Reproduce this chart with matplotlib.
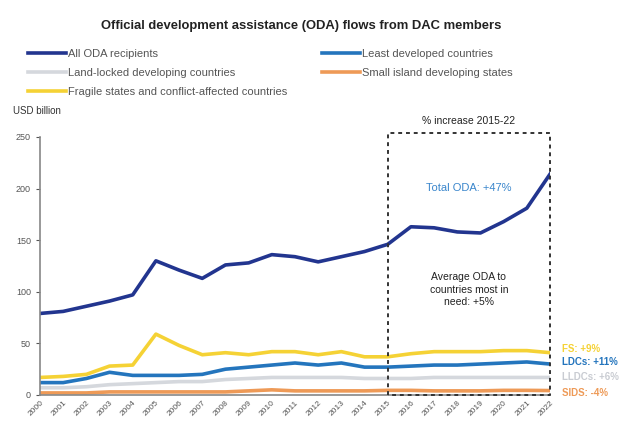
import matplotlib
matplotlib.use("Agg")
import matplotlib.pyplot as plt

plt.rcParams["font.family"] = ["Liberation Sans", "DejaVu Sans"]

years = list(range(2000, 2023))
all_oda = [79, 81, 86, 91, 97, 130, 121, 113, 126, 128, 136, 134, 129, 134, 139, 146,
           163, 162, 158, 157, 168, 181, 214]
ldcs = [12, 12, 16, 22, 19, 19, 19, 20, 25, 27, 29, 31, 29, 31, 27, 27,
        28, 29, 29, 30, 31, 32, 30]
lldcs = [7, 7, 8, 10, 11, 12, 13, 13, 15, 16, 17, 17, 17, 17, 16, 16,
         16, 17, 17, 17, 17, 17, 17]
sids = [2, 2, 2, 3, 3, 3, 3, 3, 3, 4, 5, 4, 4, 4, 4, 4.5,
        4.5, 4, 4, 4, 4.5, 4.5, 4.3]
fragile = [17, 18, 20, 28, 29, 59, 48, 39, 41, 39, 42, 42, 39, 42, 37, 37,
           40, 42, 42, 42, 43, 43, 41]

series_names = ["All ODA recipients", "Least developed countries",
                "Land-locked developing countries", "Small island developing states",
                "Fragile states and conflict-affected countries"]
end_labels = ["FS: +9%", "LDCs: +11%", "LLDCs: +6%", "SIDS: -4%"]

c_all = "#22358F"
c_ldc = "#2475BD"
c_lldc = "#D5D8DD"
c_sids = "#EE9A57"
c_fs = "#F5D235"

fig = plt.figure(figsize=(6.2, 4.25), dpi=100)
ax = fig.add_axes([0.0645, 0.0706, 0.8226, 0.6071])

l_all, = ax.plot(years, all_oda, color=c_all, lw=2.6)
l_ldc, = ax.plot(years, ldcs, color=c_ldc, lw=2.6)
l_lldc, = ax.plot(years, lldcs, color=c_lldc, lw=2.6)
l_sids, = ax.plot(years, sids, color=c_sids, lw=2.6)
l_fs, = ax.plot(years, fragile, color=c_fs, lw=2.6)

ax.set_xlim(2000, 2022)
ax.set_ylim(0, 250)
ax.set_yticks([0, 50, 100, 150, 200, 250])
ax.set_xticks(years)
ax.set_xticklabels([str(y) for y in years], rotation=45, ha="right",
                   rotation_mode="anchor", fontsize=6, color="#555555")
ax.tick_params(axis="y", labelsize=6.5, colors="#555555", length=3, direction="out")
ax.tick_params(axis="x", length=0, pad=3)
for s in ["top", "right"]:
    ax.spines[s].set_visible(False)
for s in ["left", "bottom"]:
    ax.spines[s].set_color("#888888")
    ax.spines[s].set_linewidth(1.2)

# dashed box highlighting 2015-22
box_top = 254
ax.plot([2015, 2015, 2022, 2022, 2015], [0, box_top, box_top, 0, 0],
        color="#333333", lw=1.4, ls=(0, (2, 2)), clip_on=False, zorder=5)
ax.text(2018.5, 261, "% increase 2015-22", ha="center", va="bottom",
        fontsize=7.5, color="#222222")
ax.text(2018.5, 201, "Total ODA: +47%", ha="center", va="center",
        fontsize=8, color="#3A86CC")
ax.text(2018.5, 102, "Average ODA to\ncountries most in\nneed: +5%", ha="center",
        va="center", fontsize=7.5, color="#222222", linespacing=1.3)

label_colors = [c_fs, c_ldc, "#C9CCD2", c_sids]
label_y = [45, 32, 17, 2]
for txt, col, yv in zip(end_labels, label_colors, label_y):
    ax.text(2022.5, yv, txt, ha="left", va="center", fontsize=7,
            color=col, fontweight="bold", clip_on=False)

fig.text(0.021, 0.739, "USD billion", fontsize=7, color="#333333", va="center")
fig.text(0.485, 0.94, "Official development assistance (ODA) flows from DAC members",
         ha="center", va="center", fontsize=9.4, fontweight="bold", color="#222222")

leg_kw = dict(frameon=False, fontsize=8, handlelength=3.4, handletextpad=0.2,
              labelspacing=0.8, borderaxespad=0, borderpad=0)
leg1 = fig.legend([l_all, l_lldc, l_fs], [series_names[0], series_names[2], series_names[4]],
                  loc="upper left", bbox_to_anchor=(0.045, 0.884), **leg_kw)
leg2 = fig.legend([l_ldc, l_sids], [series_names[1], series_names[3]],
                  loc="upper left", bbox_to_anchor=(0.52, 0.884), **leg_kw)
for lg in (leg1, leg2):
    for t in lg.get_texts():
        t.set_color("#555555")

fig.savefig("out.png", dpi=100, facecolor="white")
